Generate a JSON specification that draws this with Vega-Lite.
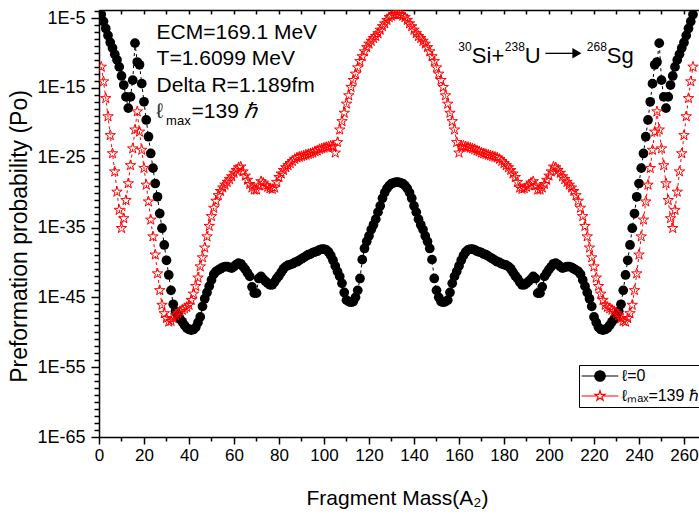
{
  "$schema": "https://vega.github.io/schema/vega-lite/v6.json",
  "width": 600,
  "height": 427,
  "autosize": {"type": "none"},
  "padding": {"left": 99, "top": 10, "right": 0, "bottom": 77},
  "background": "white",
  "config": {
    "view": {"stroke": null},
    "font": "Liberation Sans",
    "axis": {"grid": false, "domainColor": "black", "tickColor": "black", "labelColor": "black", "titleColor": "black", "domainWidth": 1.5, "tickWidth": 1.5, "labelFont": "Liberation Sans", "titleFont": "Liberation Sans", "titleFontWeight": "normal"}
  },
  "resolve": {"axis": {"x": "independent"}},
  "datasets": {
    "po": [
      {"A":1,"b":3.16e-5,"r":1e-12},{"A":2,"b":3.16e-6,"r":7.94e-15},{"A":3,"b":3.16e-7,"r":3.16e-17},{"A":4,"b":3.16e-8,"r":7.94e-20},{"A":5,"b":3.16e-9,"r":1.58e-22},
      {"A":6,"b":5.01e-10,"r":3.98e-25},{"A":7,"b":6.31e-11,"r":1e-27},{"A":8,"b":1e-11,"r":1.26e-30},{"A":9,"b":1e-12,"r":3.16e-33},{"A":10,"b":5.01e-14,"r":7.94e-36},
      {"A":11,"b":2.51e-15,"r":2e-34},{"A":12,"b":5.01e-17,"r":7.94e-32},{"A":13,"b":1.26e-18,"r":2e-29},{"A":14,"b":5.01e-17,"r":7.94e-27},{"A":15,"b":1.26e-14,"r":2e-24},
      {"A":16,"b":2.51e-9,"r":1e-21},{"A":17,"b":5.01e-12,"r":3.98e-19},{"A":18,"b":2e-12,"r":5.01e-22},{"A":19,"b":3.98e-15,"r":1.26e-24},{"A":20,"b":1e-17,"r":3.16e-27},
      {"A":21,"b":2.51e-20,"r":1.26e-29},{"A":22,"b":1e-22,"r":5.01e-32},{"A":23,"b":3.98e-25,"r":1.26e-34},{"A":24,"b":3.16e-27,"r":5.01e-37},{"A":25,"b":2e-29,"r":1.26e-39},
      {"A":26,"b":2.51e-31,"r":2.51e-42},{"A":27,"b":1e-33,"r":1e-44},{"A":28,"b":7.94e-36,"r":7.94e-47},{"A":29,"b":3.16e-38,"r":5.01e-48},{"A":30,"b":2e-40,"r":1e-48},
      {"A":31,"b":1.58e-42,"r":3.16e-49},{"A":32,"b":1e-44,"r":3.98e-49},{"A":33,"b":1e-46,"r":1e-48},{"A":34,"b":1e-47,"r":2.51e-48},{"A":35,"b":2.51e-48,"r":5.01e-48},
      {"A":36,"b":7.94e-49,"r":1e-47},{"A":37,"b":3.16e-49,"r":1.58e-47},{"A":38,"b":1e-49,"r":2.51e-47},{"A":39,"b":3.98e-50,"r":3.98e-47},{"A":40,"b":2.51e-50,"r":7.94e-47},
      {"A":41,"b":2e-50,"r":3.98e-46},{"A":42,"b":2.51e-50,"r":3.16e-45},{"A":43,"b":5.01e-50,"r":3.98e-44},{"A":44,"b":2.51e-49,"r":6.31e-43},{"A":45,"b":1.58e-48,"r":2.51e-41},
      {"A":46,"b":5.01e-47,"r":5.01e-40},{"A":47,"b":6.31e-46,"r":1.26e-38},{"A":48,"b":5.01e-45,"r":5.01e-37},{"A":49,"b":3.98e-44,"r":1.58e-35},{"A":50,"b":3.16e-43,"r":3.98e-34},
      {"A":51,"b":2e-42,"r":6.31e-33},{"A":52,"b":5.01e-42,"r":6.31e-32},{"A":53,"b":7.94e-42,"r":3.98e-31},{"A":54,"b":1.26e-41,"r":1.58e-30},{"A":55,"b":2e-41,"r":5.01e-30},
      {"A":56,"b":2.51e-41,"r":1.26e-29},{"A":57,"b":2.51e-41,"r":3.16e-29},{"A":58,"b":2e-41,"r":7.94e-29},{"A":59,"b":1.58e-41,"r":2e-28},{"A":60,"b":2.51e-41,"r":6.31e-28},
      {"A":61,"b":5.01e-41,"r":1.58e-27},{"A":62,"b":7.94e-41,"r":3.98e-27},{"A":63,"b":6.31e-41,"r":5.01e-27},{"A":64,"b":2.51e-41,"r":1e-27},{"A":65,"b":1e-41,"r":2.51e-28},
      {"A":66,"b":3.16e-42,"r":6.31e-29},{"A":67,"b":1e-42,"r":1.58e-29},{"A":68,"b":3.16e-44,"r":5.01e-30},{"A":69,"b":3.98e-45,"r":2.51e-30},{"A":70,"b":3.98e-45,"r":2.51e-30},
      {"A":71,"b":5.01e-43,"r":1e-29},{"A":72,"b":1e-42,"r":3.98e-29},{"A":73,"b":3.98e-43,"r":2.51e-29},{"A":74,"b":2e-43,"r":1e-29},{"A":75,"b":1e-43,"r":6.31e-30},
      {"A":76,"b":6.31e-44,"r":3.98e-30},{"A":77,"b":6.31e-44,"r":3.16e-30},{"A":78,"b":1.58e-43,"r":5.01e-30},{"A":79,"b":5.01e-43,"r":3.16e-29},{"A":80,"b":1.26e-42,"r":1.58e-28},
      {"A":81,"b":3.98e-42,"r":5.01e-28},{"A":82,"b":1.26e-41,"r":1.58e-27},{"A":83,"b":2.51e-41,"r":3.98e-27},{"A":84,"b":3.98e-41,"r":7.94e-27},{"A":85,"b":5.01e-41,"r":1.58e-26},
      {"A":86,"b":6.31e-41,"r":3.16e-26},{"A":87,"b":1e-40,"r":6.31e-26},{"A":88,"b":1.26e-40,"r":1e-25},{"A":89,"b":2e-40,"r":1.26e-25},{"A":90,"b":3.16e-40,"r":1.58e-25},
      {"A":91,"b":5.01e-40,"r":2e-25},{"A":92,"b":7.94e-40,"r":2.51e-25},{"A":93,"b":1.26e-39,"r":3.16e-25},{"A":94,"b":1.58e-39,"r":3.98e-25},{"A":95,"b":2.51e-39,"r":5.01e-25},
      {"A":96,"b":3.16e-39,"r":7.94e-25},{"A":97,"b":3.98e-39,"r":1e-24},{"A":98,"b":6.31e-39,"r":1.58e-24},{"A":99,"b":7.94e-39,"r":2e-24},{"A":100,"b":7.94e-39,"r":2.51e-24},
      {"A":101,"b":6.31e-39,"r":3.16e-24},{"A":102,"b":3.16e-39,"r":3.98e-24},{"A":103,"b":1e-39,"r":5.01e-24},{"A":104,"b":2e-40,"r":3.98e-24},{"A":105,"b":3.16e-41,"r":5.01e-25},
      {"A":106,"b":5.01e-42,"r":1.58e-23},{"A":107,"b":1e-42,"r":1e-21},{"A":108,"b":1e-43,"r":1.58e-20},{"A":109,"b":5.01e-45,"r":2.51e-19},{"A":110,"b":3.98e-46,"r":5.01e-18},
      {"A":111,"b":2.51e-46,"r":7.94e-17},{"A":112,"b":2e-46,"r":1.26e-15},{"A":113,"b":2.51e-46,"r":1.26e-14},{"A":114,"b":1e-45,"r":1e-13},{"A":115,"b":1e-44,"r":7.94e-13},
      {"A":116,"b":5.01e-43,"r":6.31e-12},{"A":117,"b":2.51e-40,"r":3.16e-11},{"A":118,"b":1e-38,"r":1.58e-10},{"A":119,"b":1e-37,"r":6.31e-10},{"A":120,"b":6.31e-37,"r":2e-9},
      {"A":121,"b":5.01e-36,"r":5.01e-9},{"A":122,"b":2.51e-35,"r":1.26e-8},{"A":123,"b":1.58e-34,"r":2.51e-8},{"A":124,"b":1.58e-33,"r":6.31e-8},{"A":125,"b":1.26e-32,"r":2e-7},
      {"A":126,"b":1.58e-31,"r":6.31e-7},{"A":127,"b":1e-30,"r":1.58e-6},{"A":128,"b":3.98e-30,"r":5.01e-6},{"A":129,"b":1e-29,"r":1.26e-5},{"A":130,"b":2e-29,"r":2e-5},
      {"A":131,"b":2.51e-29,"r":3.16e-5},{"A":132,"b":3.16e-29,"r":3.16e-5},{"A":133,"b":3.16e-29,"r":3.16e-5},{"A":134,"b":2.51e-29,"r":3.16e-5},{"A":135,"b":2e-29,"r":2e-5},
      {"A":136,"b":1e-29,"r":1.26e-5},{"A":137,"b":3.98e-30,"r":5.01e-6},{"A":138,"b":1e-30,"r":1.58e-6},{"A":139,"b":1.58e-31,"r":6.31e-7},{"A":140,"b":1.26e-32,"r":2e-7},
      {"A":141,"b":1.58e-33,"r":6.31e-8},{"A":142,"b":1.58e-34,"r":2.51e-8},{"A":143,"b":2.51e-35,"r":1.26e-8},{"A":144,"b":5.01e-36,"r":5.01e-9},{"A":145,"b":6.31e-37,"r":2e-9},
      {"A":146,"b":1e-37,"r":6.31e-10},{"A":147,"b":1e-38,"r":1.58e-10},{"A":148,"b":2.51e-40,"r":3.16e-11},{"A":149,"b":5.01e-43,"r":6.31e-12},{"A":150,"b":1e-44,"r":7.94e-13},
      {"A":151,"b":1e-45,"r":1e-13},{"A":152,"b":2.51e-46,"r":1.26e-14},{"A":153,"b":2e-46,"r":1.26e-15},{"A":154,"b":2.51e-46,"r":7.94e-17},{"A":155,"b":3.98e-46,"r":5.01e-18},
      {"A":156,"b":5.01e-45,"r":2.51e-19},{"A":157,"b":1e-43,"r":1.58e-20},{"A":158,"b":1e-42,"r":1e-21},{"A":159,"b":5.01e-42,"r":1.58e-23},{"A":160,"b":3.16e-41,"r":5.01e-25},
      {"A":161,"b":2e-40,"r":3.98e-24},{"A":162,"b":1e-39,"r":5.01e-24},{"A":163,"b":3.16e-39,"r":3.98e-24},{"A":164,"b":6.31e-39,"r":3.16e-24},{"A":165,"b":7.94e-39,"r":2.51e-24},
      {"A":166,"b":7.94e-39,"r":2e-24},{"A":167,"b":6.31e-39,"r":1.58e-24},{"A":168,"b":3.98e-39,"r":1e-24},{"A":169,"b":3.16e-39,"r":7.94e-25},{"A":170,"b":2.51e-39,"r":5.01e-25},
      {"A":171,"b":1.58e-39,"r":3.98e-25},{"A":172,"b":1.26e-39,"r":3.16e-25},{"A":173,"b":7.94e-40,"r":2.51e-25},{"A":174,"b":5.01e-40,"r":2e-25},{"A":175,"b":3.16e-40,"r":1.58e-25},
      {"A":176,"b":2e-40,"r":1.26e-25},{"A":177,"b":1.26e-40,"r":1e-25},{"A":178,"b":1e-40,"r":6.31e-26},{"A":179,"b":6.31e-41,"r":3.16e-26},{"A":180,"b":5.01e-41,"r":1.58e-26},
      {"A":181,"b":3.98e-41,"r":7.94e-27},{"A":182,"b":2.51e-41,"r":3.98e-27},{"A":183,"b":1.26e-41,"r":1.58e-27},{"A":184,"b":3.98e-42,"r":5.01e-28},{"A":185,"b":1.26e-42,"r":1.58e-28},
      {"A":186,"b":5.01e-43,"r":3.16e-29},{"A":187,"b":1.58e-43,"r":5.01e-30},{"A":188,"b":6.31e-44,"r":3.16e-30},{"A":189,"b":6.31e-44,"r":3.98e-30},{"A":190,"b":1e-43,"r":6.31e-30},
      {"A":191,"b":2e-43,"r":1e-29},{"A":192,"b":3.98e-43,"r":2.51e-29},{"A":193,"b":1e-42,"r":3.98e-29},{"A":194,"b":5.01e-43,"r":1e-29},{"A":195,"b":3.98e-45,"r":2.51e-30},
      {"A":196,"b":3.98e-45,"r":2.51e-30},{"A":197,"b":3.16e-44,"r":5.01e-30},{"A":198,"b":1e-42,"r":1.58e-29},{"A":199,"b":3.16e-42,"r":6.31e-29},{"A":200,"b":1e-41,"r":2.51e-28},
      {"A":201,"b":2.51e-41,"r":1e-27},{"A":202,"b":6.31e-41,"r":5.01e-27},{"A":203,"b":7.94e-41,"r":3.98e-27},{"A":204,"b":5.01e-41,"r":1.58e-27},{"A":205,"b":2.51e-41,"r":6.31e-28},
      {"A":206,"b":1.58e-41,"r":2e-28},{"A":207,"b":2e-41,"r":7.94e-29},{"A":208,"b":2.51e-41,"r":3.16e-29},{"A":209,"b":2.51e-41,"r":1.26e-29},{"A":210,"b":2e-41,"r":5.01e-30},
      {"A":211,"b":1.26e-41,"r":1.58e-30},{"A":212,"b":7.94e-42,"r":3.98e-31},{"A":213,"b":5.01e-42,"r":6.31e-32},{"A":214,"b":2e-42,"r":6.31e-33},{"A":215,"b":3.16e-43,"r":3.98e-34},
      {"A":216,"b":3.98e-44,"r":1.58e-35},{"A":217,"b":5.01e-45,"r":5.01e-37},{"A":218,"b":6.31e-46,"r":1.26e-38},{"A":219,"b":5.01e-47,"r":5.01e-40},{"A":220,"b":1.58e-48,"r":2.51e-41},
      {"A":221,"b":2.51e-49,"r":6.31e-43},{"A":222,"b":5.01e-50,"r":3.98e-44},{"A":223,"b":2.51e-50,"r":3.16e-45},{"A":224,"b":2e-50,"r":3.98e-46},{"A":225,"b":2.51e-50,"r":7.94e-47},
      {"A":226,"b":3.98e-50,"r":3.98e-47},{"A":227,"b":1e-49,"r":2.51e-47},{"A":228,"b":3.16e-49,"r":1.58e-47},{"A":229,"b":7.94e-49,"r":1e-47},{"A":230,"b":2.51e-48,"r":5.01e-48},
      {"A":231,"b":1e-47,"r":2.51e-48},{"A":232,"b":1e-46,"r":1e-48},{"A":233,"b":1e-44,"r":3.98e-49},{"A":234,"b":1.58e-42,"r":3.16e-49},{"A":235,"b":2e-40,"r":1e-48},
      {"A":236,"b":3.16e-38,"r":5.01e-48},{"A":237,"b":7.94e-36,"r":7.94e-47},{"A":238,"b":1e-33,"r":1e-44},{"A":239,"b":2.51e-31,"r":2.51e-42},{"A":240,"b":2e-29,"r":1.26e-39},
      {"A":241,"b":3.16e-27,"r":5.01e-37},{"A":242,"b":3.98e-25,"r":1.26e-34},{"A":243,"b":1e-22,"r":5.01e-32},{"A":244,"b":2.51e-20,"r":1.26e-29},{"A":245,"b":1e-17,"r":3.16e-27},
      {"A":246,"b":3.98e-15,"r":1.26e-24},{"A":247,"b":2e-12,"r":5.01e-22},{"A":248,"b":5.01e-12,"r":3.98e-19},{"A":249,"b":2.51e-9,"r":1e-21},{"A":250,"b":1.26e-14,"r":2e-24},
      {"A":251,"b":5.01e-17,"r":7.94e-27},{"A":252,"b":1.26e-18,"r":2e-29},{"A":253,"b":5.01e-17,"r":7.94e-32},{"A":254,"b":2.51e-15,"r":2e-34},{"A":255,"b":5.01e-14,"r":7.94e-36},
      {"A":256,"b":1e-12,"r":3.16e-33},{"A":257,"b":1e-11,"r":1.26e-30},{"A":258,"b":6.31e-11,"r":1e-27},{"A":259,"b":5.01e-10,"r":3.98e-25},{"A":260,"b":3.16e-9,"r":1.58e-22},
      {"A":261,"b":3.16e-8,"r":7.94e-20},{"A":262,"b":3.16e-7,"r":3.16e-17},{"A":263,"b":3.16e-6,"r":7.94e-15},{"A":264,"b":3.16e-5,"r":1e-12}
    ]
  },
  "data": {"name": "po"},
  "layer": [
    {
      "mark": {"type": "line", "color": "black", "strokeWidth": 1, "strokeDash": [3, 3], "clip": true},
      "encoding": {
        "x": {"field": "A", "type": "quantitative", "scale": {"domain": [0, 266.67], "nice": false, "zero": false},
          "axis": {"orient": "bottom", "values": [0,10,20,30,40,50,60,70,80,90,100,110,120,130,140,150,160,170,180,190,200,210,220,230,240,250,260],
            "labelExpr": "datum.value % 20 === 0 ? datum.label : ''",
            "tickSize": {"condition": {"test": "datum.value % 20 === 0", "value": 7}, "value": 4},
            "labelFontSize": 17, "labelPadding": 3, "labelFlush": false, "labelOverlap": false,
            "title": "Fragment Mass(A₂)", "titleFontSize": 21, "titleX": 298, "titleY": 67, "titleBaseline": "alphabetic"}},
        "y": {"field": "b", "type": "quantitative", "scale": {"type": "log", "domain": [1e-65, 1.4e-4], "nice": false},
          "axis": {"values": [1e-65,1e-64,1e-63,1e-62,1e-61,1e-60,1e-59,1e-58,1e-57,1e-56,1e-55,1e-54,1e-53,1e-52,1e-51,1e-50,1e-49,1e-48,1e-47,1e-46,1e-45,1e-44,1e-43,1e-42,1e-41,1e-40,1e-39,1e-38,1e-37,1e-36,1e-35,1e-34,1e-33,1e-32,1e-31,1e-30,1e-29,1e-28,1e-27,1e-26,1e-25,1e-24,1e-23,1e-22,1e-21,1e-20,1e-19,1e-18,1e-17,1e-16,1e-15,1e-14,1e-13,1e-12,1e-11,1e-10,1e-9,1e-8,1e-7,1e-6,1e-5,1e-4],
            "labelExpr": "(round(log(datum.value)/LN10) + 5) % 10 === 0 ? '1E' + round(log(datum.value)/LN10) : ''",
            "tickSize": {"condition": {"test": "(round(log(datum.value)/LN10) + 5) % 10 === 0", "value": 8}, "value": 5},
            "labelFontSize": 18, "labelPadding": 6, "labelOverlap": false, "labelFlush": false,
            "title": "Preformation probability (Po)", "titleFontSize": 23, "titleX": -80, "titleY": 226, "titleAngle": -90, "titleAlign": "center", "titleBaseline": "middle"}}
      }
    },
    {
      "mark": {"type": "point", "shape": "circle", "filled": true, "color": "black", "size": 95, "opacity": 1, "clip": true},
      "encoding": {
        "x": {"field": "A", "type": "quantitative",
          "axis": {"orient": "top", "values": [0,10,20,30,40,50,60,70,80,90,100,110,120,130,140,150,160,170,180,190,200,210,220,230,240,250,260], "labels": false, "title": null, "tickSize": -4}},
        "y": {"field": "b", "type": "quantitative"}
      }
    },
    {
      "mark": {"type": "line", "color": "red", "strokeWidth": 1, "strokeDash": [3, 3], "clip": true},
      "encoding": {"x": {"field": "A", "type": "quantitative", "axis": null}, "y": {"field": "r", "type": "quantitative"}}
    },
    {
      "mark": {"type": "point", "shape": "M0,-1L0.2245,-0.309L0.951,-0.309L0.363,0.118L0.588,0.809L0,0.382L-0.588,0.809L-0.363,0.118L-0.951,-0.309L-0.2245,-0.309Z", "filled": false, "color": "red", "strokeWidth": 1, "size": 120, "opacity": 1, "clip": true},
      "encoding": {"x": {"field": "A", "type": "quantitative", "axis": null}, "y": {"field": "r", "type": "quantitative"}}
    },
    {"data": {"values": [{}]}, "mark": {"type": "text", "text": "ECM=169.1 MeV", "align": "left", "baseline": "alphabetic", "fontSize": 21, "color": "black"}, "encoding": {"x": {"datum": 25.6, "axis": null}, "y": {"datum": 8.9e-9}}},
    {"data": {"values": [{}]}, "mark": {"type": "text", "text": "T=1.6099 MeV", "align": "left", "baseline": "alphabetic", "fontSize": 21, "color": "black"}, "encoding": {"x": {"datum": 25.6, "axis": null}, "y": {"datum": 1.58e-12}}},
    {"data": {"values": [{}]}, "mark": {"type": "text", "text": "Delta R=1.189fm", "align": "left", "baseline": "alphabetic", "fontSize": 21, "color": "black"}, "encoding": {"x": {"datum": 25.6, "axis": null}, "y": {"datum": 2.82e-16}}},
    {"data": {"values": [{}]}, "mark": {"type": "text", "text": "ℓ", "align": "left", "baseline": "alphabetic", "fontSize": 21, "color": "#333333"}, "encoding": {"x": {"datum": 25.6, "axis": null}, "y": {"datum": 4.37e-20}}},
    {"data": {"values": [{}]}, "mark": {"type": "text", "text": "max", "align": "left", "baseline": "alphabetic", "fontSize": 13, "dx": 9.5, "dy": 7, "color": "black"}, "encoding": {"x": {"datum": 25.6, "axis": null}, "y": {"datum": 4.37e-20}}},
    {"data": {"values": [{}]}, "mark": {"type": "text", "text": "=139", "align": "left", "baseline": "alphabetic", "fontSize": 21, "dx": 35, "color": "black"}, "encoding": {"x": {"datum": 25.6, "axis": null}, "y": {"datum": 4.37e-20}}},
    {"data": {"values": [{}]}, "mark": {"type": "text", "text": "ℏ", "align": "left", "baseline": "alphabetic", "fontSize": 21, "fontStyle": "italic", "dx": 87, "color": "black"}, "encoding": {"x": {"datum": 25.6, "axis": null}, "y": {"datum": 4.37e-20}}},
    {"data": {"values": [{}]}, "mark": {"type": "text", "text": "30", "align": "left", "baseline": "alphabetic", "fontSize": 12, "dy": -12, "color": "black"}, "encoding": {"x": {"datum": 159.7, "axis": null}, "y": {"datum": 3.24e-12}}},
    {"data": {"values": [{}]}, "mark": {"type": "text", "text": "Si+", "align": "left", "baseline": "alphabetic", "fontSize": 22, "dx": 13.5, "color": "black"}, "encoding": {"x": {"datum": 159.7, "axis": null}, "y": {"datum": 3.24e-12}}},
    {"data": {"values": [{}]}, "mark": {"type": "text", "text": "238", "align": "left", "baseline": "alphabetic", "fontSize": 12, "dx": 46.5, "dy": -12, "color": "black"}, "encoding": {"x": {"datum": 159.7, "axis": null}, "y": {"datum": 3.24e-12}}},
    {"data": {"values": [{}]}, "mark": {"type": "text", "text": "U", "align": "left", "baseline": "alphabetic", "fontSize": 22, "dx": 66.5, "color": "black"}, "encoding": {"x": {"datum": 159.7, "axis": null}, "y": {"datum": 3.24e-12}}},
    {"data": {"values": [{}]}, "mark": {"type": "rule", "color": "black", "strokeWidth": 1.3}, "encoding": {"x": {"datum": 198.4, "axis": null}, "x2": {"datum": 210.8}, "y": {"datum": 8.7e-11}}},
    {"data": {"values": [{}]}, "mark": {"type": "point", "shape": "triangle-right", "filled": true, "color": "black", "size": 110, "opacity": 1}, "encoding": {"x": {"datum": 212.4, "axis": null}, "y": {"datum": 8.7e-11}}},
    {"data": {"values": [{}]}, "mark": {"type": "text", "text": "268", "align": "left", "baseline": "alphabetic", "fontSize": 12, "dx": 128.5, "dy": -12, "color": "black"}, "encoding": {"x": {"datum": 159.7, "axis": null}, "y": {"datum": 3.24e-12}}},
    {"data": {"values": [{}]}, "mark": {"type": "text", "text": "Sg", "align": "left", "baseline": "alphabetic", "fontSize": 22, "dx": 148.5, "color": "black"}, "encoding": {"x": {"datum": 159.7, "axis": null}, "y": {"datum": 3.24e-12}}},
    {
      "transform": [{"filter": "datum.A < 0"}],
      "mark": {"type": "point", "filled": false, "size": 110, "strokeWidth": 1.2, "opacity": 1},
      "encoding": {
        "shape": {"field": "s", "type": "nominal",
          "scale": {"domain": ["ℓ=0", "ℓₘₐₓ=139 ℏ"], "range": ["M-3.5,0H-1M1,0H3.5M-1,0A1,1,0,1,0,1,0A1,1,0,1,0,-1,0Z", "M-3.5,0H-0.55M0.55,0H3.5M0,-1L0.2245,-0.309L0.951,-0.309L0.363,0.118L0.588,0.809L0,0.382L-0.588,0.809L-0.363,0.118L-0.951,-0.309L-0.2245,-0.309Z"]},
          "legend": {"title": null, "orient": "none", "legendX": 480, "legendY": 355, "strokeColor": "black", "fillColor": "white", "padding": 3, "symbolOffset": 10, "labelOffset": 14, "labelFontSize": 16, "labelFont": "Liberation Sans", "labelColor": "black", "symbolSize": 110, "symbolStrokeWidth": 1.2, "symbolOpacity": 1, "rowPadding": 4, "labelLimit": 200}},
        "stroke": {"field": "s", "type": "nominal", "scale": {"domain": ["ℓ=0", "ℓₘₐₓ=139 ℏ"], "range": ["black", "red"]},
          "legend": {"title": null, "orient": "none", "legendX": 480, "legendY": 355, "strokeColor": "black", "fillColor": "white", "padding": 3, "symbolOffset": 10, "labelOffset": 14, "labelFontSize": 16, "labelFont": "Liberation Sans", "labelColor": "black", "symbolSize": 110, "symbolStrokeWidth": 1.2, "symbolOpacity": 1, "rowPadding": 4, "labelLimit": 200}},
        "fill": {"field": "s", "type": "nominal", "scale": {"domain": ["ℓ=0", "ℓₘₐₓ=139 ℏ"], "range": ["black", "white"]},
          "legend": {"title": null, "orient": "none", "legendX": 480, "legendY": 355, "strokeColor": "black", "fillColor": "white", "padding": 3, "symbolOffset": 10, "labelOffset": 14, "labelFontSize": 16, "labelFont": "Liberation Sans", "labelColor": "black", "symbolSize": 110, "symbolStrokeWidth": 1.2, "symbolOpacity": 1, "rowPadding": 4, "labelLimit": 200}}
      }
    }
  ]
}
